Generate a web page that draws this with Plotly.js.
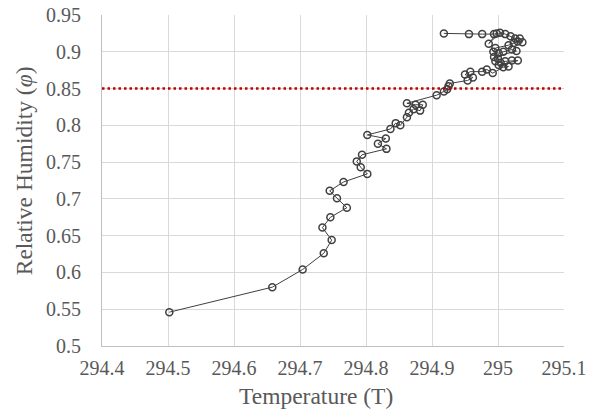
<!DOCTYPE html>
<html>
<head>
<meta charset="utf-8">
<script src="https://cdn.plot.ly/plotly-3.0.1.min.js"></script>
<style>html,body{margin:0;padding:0;background:#fff;}#chart{width:602px;height:412px;}</style>
</head>
<body>
<div id="chart"></div>
<script>
// Temperature (T) values, in path order
const temperature = [
  294.502, 294.658, 294.704, 294.736, 294.748, 294.734, 294.746, 294.771, 294.756, 294.745,
  294.766, 294.802, 294.792, 294.786, 294.794, 294.831, 294.818, 294.830, 294.802, 294.837,
  294.845, 294.852, 294.862, 294.865, 294.872, 294.882, 294.886, 294.875, 294.862, 294.907,
  294.918, 294.923, 294.925, 294.927, 294.954, 294.962, 294.950, 294.958, 294.976, 294.983,
  294.992, 295.008, 295.016, 295.001, 295.030, 295.021, 295.011, 295.004, 294.996, 295.000,
  294.994, 295.028, 295.021, 295.008, 295.001, 294.993, 294.996, 295.016, 295.024, 295.030,
  295.037, 295.033, 295.026, 295.019, 295.011, 295.003, 294.986, 294.998, 294.994, 294.976,
  294.956, 294.918
];
// Relative humidity (phi) values, in path order
const humidity = [
  0.546, 0.580, 0.604, 0.626, 0.644, 0.661, 0.675, 0.688, 0.701, 0.711,
  0.723, 0.734, 0.743, 0.751, 0.760, 0.768, 0.775, 0.782, 0.787, 0.795,
  0.803, 0.800, 0.811, 0.817, 0.822, 0.820, 0.828, 0.828, 0.830, 0.841,
  0.846, 0.849, 0.853, 0.857, 0.861, 0.865, 0.869, 0.873, 0.873, 0.876,
  0.871, 0.879, 0.880, 0.882, 0.888, 0.888, 0.887, 0.885, 0.887, 0.891,
  0.893, 0.901, 0.903, 0.900, 0.898, 0.900, 0.905, 0.909, 0.912, 0.914,
  0.913, 0.918, 0.918, 0.921, 0.924, 0.926, 0.911, 0.925, 0.924, 0.924,
  0.924, 0.925
];
const thresholdHumidity = 0.85;
const xTickVals = [294.4, 294.5, 294.6, 294.7, 294.8, 294.9, 295.0, 295.1];
const xTickText = ["294.4", "294.5", "294.6", "294.7", "294.8", "294.9", "295", "295.1"];
const yTickVals = [0.5, 0.55, 0.6, 0.65, 0.7, 0.75, 0.8, 0.85, 0.9, 0.95];
const yTickText = ["0.5", "0.55", "0.6", "0.65", "0.7", "0.75", "0.8", "0.85", "0.9", "0.95"];
const xTitle = 'Temperature (T)';
const yTitle = 'Relative Humidity (<i>φ</i>)';

const fontFam = 'Liberation Serif, Times New Roman, serif';
const txtCol = '#595959';

const traces = [{
  x: temperature,
  y: humidity,
  type: 'scatter',
  mode: 'lines+markers',
  line: {color: '#404040', width: 1},
  marker: {symbol: 'circle-open', size: 7, color: '#404040', line: {width: 1.5, color: '#404040'}},
  hoverinfo: 'x+y',
  showlegend: false
}];

const layout = {
  width: 602, height: 412,
  margin: {l: 102, r: 38, t: 15, b: 66},
  paper_bgcolor: '#ffffff', plot_bgcolor: '#ffffff',
  font: {family: fontFam, color: txtCol, size: 20},
  showlegend: false,
  xaxis: {
    range: [294.4, 295.1],
    tickvals: xTickVals, ticktext: xTickText,
    showgrid: true, gridcolor: '#d9d9d9', gridwidth: 1,
    showline: true, linecolor: '#bfbfbf', linewidth: 1,
    zeroline: false, ticks: '',
    ticklabelstandoff: 4,
    tickfont: {family: fontFam, color: txtCol, size: 20}
  },
  yaxis: {
    range: [0.5, 0.95],
    tickvals: yTickVals, ticktext: yTickText,
    showgrid: true, gridcolor: '#d9d9d9', gridwidth: 1,
    showline: true, linecolor: '#bfbfbf', linewidth: 1,
    zeroline: false, ticks: '',
    ticklabelstandoff: 16,
    tickfont: {family: fontFam, color: txtCol, size: 20}
  },
  annotations: [
    {text: xTitle, xref: 'paper', yref: 'paper', x: 0.464, y: -0.15,
     xanchor: 'center', yanchor: 'middle', showarrow: false, borderpad: 0,
     font: {family: fontFam, color: txtCol, size: 23.5}},
    {text: yTitle, xref: 'paper', yref: 'paper', x: -0.168, y: 0.529,
     xanchor: 'center', yanchor: 'middle', textangle: -90, showarrow: false,
     font: {family: fontFam, color: txtCol, size: 23.5}}
  ],
  shapes: [{
    type: 'line', xref: 'paper', yref: 'y',
    x0: 0, x1: 1, y0: thresholdHumidity, y1: thresholdHumidity,
    line: {color: '#c00000', width: 2.5, dash: '2.5px,3px'}
  }]
};

Plotly.newPlot('chart', traces, layout, {displayModeBar: false, staticPlot: true});
</script>
</body>
</html>
